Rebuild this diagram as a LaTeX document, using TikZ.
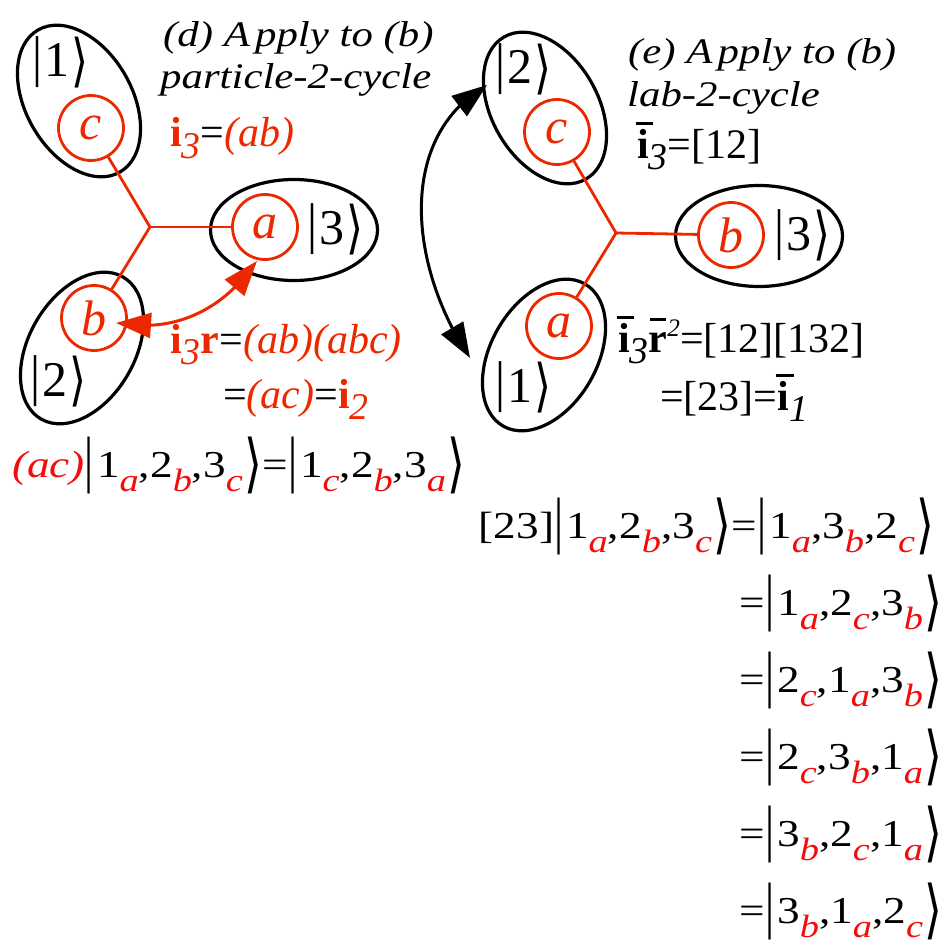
\documentclass[tikz,border=0pt]{standalone}
\usepackage{fontspec}
\setmainfont{Liberation Serif}
\newfontfamily\djv{DejaVu Sans}
\usepackage{graphicx}
\usetikzlibrary{shapes.geometric,arrows.meta,bending}
\definecolor{dred}{RGB}{236,40,0}
\definecolor{ered}{RGB}{242,12,12}
% ket delimiters: #1 depth below baseline, #2 total height, #3 width of angle
\newcommand{\kL}[2]{\raisebox{-#1}{\raisebox{\depth}{\resizebox*{\width}{#2}{|}}}\kern2.5pt}
\newcommand{\kR}[3]{\kern1.5pt\raisebox{-#1}{\raisebox{\depth}{\resizebox*{#3}{#2}{\djv ⟩}}}}
\newcommand{\ekl}{\kL{17pt}{57pt}}
\newcommand{\ekr}{\kR{17pt}{57pt}{15pt}}
\newcommand{\lkl}{\kL{11pt}{51pt}}
\newcommand{\lkr}{\kR{11pt}{51pt}{17pt}}
\newcommand{\rsb}[1]{\raisebox{-0.38em}{\scalebox{0.85}{\color{ered}\itshape #1}}}
\newcommand{\lsub}[1]{\raisebox{-0.28em}{\scalebox{0.9}{\itshape #1}}}
\newcommand{\ibar}{\rlap{\kern-0.04em\raisebox{0.78em}{\rule{0.42em}{0.075em}}}\textbf{i}}
\newcommand{\rbar}{\rlap{\kern0.02em\raisebox{0.74em}{\rule{0.4em}{0.075em}}}\textbf{r}}
\newcommand{\xs}[1]{\scalebox{1.19}[1]{#1}}
\begin{document}
\begin{tikzpicture}[x=1pt,y=1pt,
  ell/.style={draw=black, line width=3.2pt, ellipse, inner sep=0pt, minimum width=164pt, minimum height=106pt},
  hell/.style={draw=black, line width=3.2pt, ellipse, inner sep=0pt, minimum width=167pt, minimum height=101pt},
  pc/.style={circle, draw=dred, line width=2.8pt, minimum size=65pt, inner sep=0pt, text=dred, font=\fontsize{50}{50}\selectfont\itshape},
  bond/.style={draw=dred, line width=2.8pt},
  ketlab/.style={inner sep=0pt, anchor=base west, font=\fontsize{50}{52}\selectfont},
  ttl/.style={inner sep=0pt, anchor=base west, font=\fontsize{36}{40}\selectfont\itshape},
  lbl/.style={inner sep=0pt, anchor=base west, font=\fontsize{42}{46}\selectfont},
  eqn/.style={inner sep=0pt, font=\fontsize{38}{46}\selectfont},
  bigtip/.tip={Triangle[length=35pt,width=25pt]}]
\useasboundingbox (0,0) rectangle (948,-947);
% ---------- (d) ----------
\node[ell, rotate=-60] (E1d) at (79,-101) {};
\node[hell] (E3d) at (294,-230) {};
\node[ell, rotate=60] (E2d) at (82,-348) {};
\coordinate (Jd) at (150,-227);
\node[pc] (Ccd) at (91,-128) {c};
\node[pc] (Cad) at (265,-227) {a};
\node[pc] (Cbd) at (94,-318) {b};
\draw[bond] (Jd) -- (Ccd);
\draw[bond] (Jd) -- (Cad);
\draw[bond] (Jd) -- (Cbd);
\node[ketlab] (L1d) at (32,-77) {\lkl 1\lkr};
\node[ketlab] (L3d) at (307,-244) {\lkl 3\lkr};
\node[ketlab] (L2d) at (30,-396) {\lkl 2\lkr};
\coordinate (rb) at (116,-323);
\coordinate (ra) at (257,-261);
\draw[dred, line width=3pt, {bigtip}-{bigtip}] (rb) to[out=-10,in=235] (ra);
\node[ttl] (T1d) at (163,-47) {\xs{(d) A\kern0.12em pply to (b)}};
\node[ttl] (T2d) at (160,-89) {\xs{particle-2-cycle}};
\node[lbl, text=dred] (T3d) at (170,-147) {\textbf{i}\lsub{3}\textcolor{black}{=}\textit{(ab)}};
\node[lbl, text=dred] (T4d) at (170,-353) {\textbf{i}\lsub{3}\textbf{r}\textcolor{black}{=}\textit{(ab)(abc)}};
\node[lbl, text=dred] (T5d) at (223,-408) {\textcolor{black}{=}\textit{(ac)}\textcolor{black}{=}\textbf{i}\lsub{2}};
\node[eqn, anchor=base west] (QL) at (12,-477) {\xs{\textcolor{ered}{\itshape (ac)}\ekl 1\rsb{a},2\rsb{b},3\rsb{c}\ekr{}=\ekl 1\rsb{c},2\rsb{b},3\rsb{a}\ekr}};
% ---------- (e) ----------
\node[ell, rotate=-60] (E2e) at (545,-108) {};
\node[hell] (E3e) at (759,-236) {};
\node[ell, rotate=60] (E1e) at (544,-355) {};
\coordinate (Je) at (616,-233);
\node[pc] (Cce) at (557,-132) {c};
\node[pc] (Cbe) at (731,-235) {b};
\node[pc] (Cae) at (559,-326) {a};
\draw[bond] (Je) -- (Cce);
\draw[bond] (Je) -- (Cbe);
\draw[bond] (Je) -- (Cae);
\node[ketlab] (L2e) at (495,-84) {\lkl 2\lkr};
\node[ketlab] (L3e) at (774,-250) {\lkl 3\lkr};
\node[ketlab] (L1e) at (495,-402) {\lkl 1\lkr};
\coordinate (bt) at (487,-85);
\coordinate (bb) at (470,-358);
\draw[black, line width=3pt, {bigtip}-{bigtip}] (bt) to[out=210,in=124] (bb);
\node[ttl] (T1e) at (628,-64) {\xs{(e) A\kern0.12em pply to (b)}};
\node[ttl] (T2e) at (627,-107) {\xs{lab-2-cycle}};
\node[lbl] (T3e) at (637,-158) {\ibar\lsub{3}=[12]};
\node[lbl] (T4e) at (618,-352) {\ibar\lsub{3}\rbar\raisebox{0.38em}{\scalebox{0.6}{\itshape 2}}=[12][132]};
\node[lbl] (T5e) at (660,-410) {=[23]=\ibar\lsub{1}};
% ---------- equations ----------
\node[eqn, anchor=base east] (Q1) at (935,-538) {\xs{[23]\ekl 1\rsb{a},2\rsb{b},3\rsb{c}\ekr{}=\ekl 1\rsb{a},3\rsb{b},2\rsb{c}\ekr}};
\node[eqn, anchor=base east] (Q2) at (943,-615) {\xs{=\ekl 1\rsb{a},2\rsb{c},3\rsb{b}\ekr}};
\node[eqn, anchor=base east] (Q3) at (943,-692) {\xs{=\ekl 2\rsb{c},1\rsb{a},3\rsb{b}\ekr}};
\node[eqn, anchor=base east] (Q4) at (943,-769) {\xs{=\ekl 2\rsb{c},3\rsb{b},1\rsb{a}\ekr}};
\node[eqn, anchor=base east] (Q5) at (943,-846) {\xs{=\ekl 3\rsb{b},2\rsb{c},1\rsb{a}\ekr}};
\node[eqn, anchor=base east] (Q6) at (943,-923) {\xs{=\ekl 3\rsb{b},1\rsb{a},2\rsb{c}\ekr}};
\end{tikzpicture}
\end{document}
